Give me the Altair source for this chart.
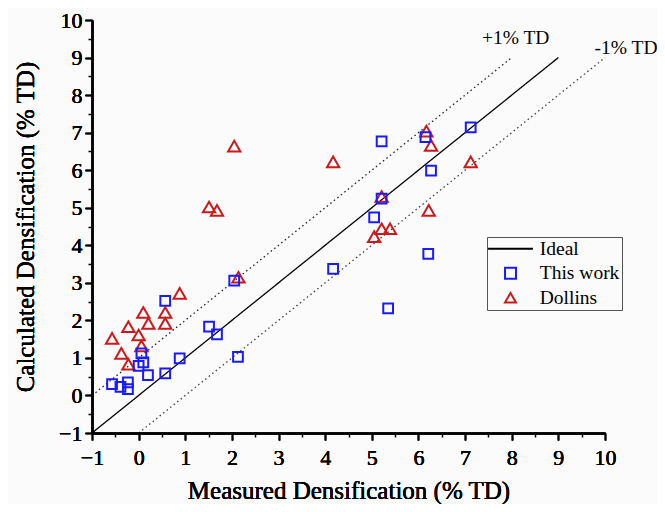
import altair as alt
import pandas as pd

# ---- data ----
this_work_x = [-0.57, -0.39, -0.23, -0.23, 0.0, 0.06, 0.10, 0.20, 0.57, 0.57, 0.88, 1.51, 1.68, 2.05, 2.13,
               4.17, 5.05, 5.21, 5.21, 6.15, 6.27, 7.12, 6.21, 5.35]
this_work_y = [0.30, 0.23, 0.35, 0.17, 0.79, 1.12, 0.88, 0.54, 0.59, 2.52, 0.99, 1.83, 1.63, 3.06, 1.03,
               3.37, 4.74, 5.24, 6.77, 6.88, 5.99, 7.14, 3.77, 2.32]
dollins_x = [2.05, 4.17, 1.51, 1.68, 6.17, 6.27, 7.12, 5.21, 6.22, 5.05, 5.21, 5.39, 2.14, 0.88,
             0.10, 0.57, 0.21, 0.57, -0.22, 0.0, -0.57, 0.06, -0.37, -0.22]
dollins_y = [6.64, 6.22, 5.02, 4.93, 7.04, 6.66, 6.22, 5.30, 4.93, 4.23, 4.44, 4.44, 3.15, 2.72,
             2.21, 2.21, 1.92, 1.92, 1.83, 1.61, 1.52, 1.32, 1.12, 0.83]

ideal_x = [-1, 9]
ideal_y = [-1, 9]
plus_x = [-1, 8]
plus_y = [0, 9]
minus_x = [0, 10]
minus_y = [-1, 9]

series_names = ["Ideal", "This work", "Dollins"]
major_ticks = list(range(-1, 11))
minor_ticks = [v + 0.5 for v in range(-1, 10)]
band_labels = ["+1% TD", "-1% TD"]
band_label_x = [8.085, 10.45]
band_label_y = [9.35, 9.085]

FONT = "Liberation Serif"

tw = pd.DataFrame({"x": this_work_x, "y": this_work_y, "series": "This work"})
do = pd.DataFrame({"x": dollins_x, "y": dollins_y, "series": "Dollins"})
lines = pd.concat([
    pd.DataFrame({"x": ideal_x, "y": ideal_y, "line": "ideal"}),
    pd.DataFrame({"x": plus_x, "y": plus_y, "line": "plus"}),
    pd.DataFrame({"x": minus_x, "y": minus_y, "line": "minus"}),
])
labels = pd.DataFrame({"x": band_label_x, "y": band_label_y, "t": band_labels})

xs = alt.Scale(domain=[-1, 10], nice=False, zero=False)
ys = alt.Scale(domain=[-1, 10], nice=False, zero=False)

major_x = alt.Axis(values=major_ticks, orient="bottom", grid=False, tickSize=7, tickWidth=1.5,
                   domainWidth=2, domainColor="black", tickColor="black", labelFont=FONT, labelFontSize=22,
                   labelColor="black", labelPadding=7, title="Measured Densification (% TD)",
                   titleFont=FONT, titleFontSize=25, titleFontWeight="normal", titleColor="black",
                   titlePadding=10, labelFlush=False)
major_y = alt.Axis(values=major_ticks, orient="left", grid=False, tickSize=7, tickWidth=1.5,
                   domainWidth=2, domainColor="black", tickColor="black", labelFont=FONT, labelFontSize=22,
                   labelColor="black", labelPadding=3, title="Calculated Densification (% TD)",
                   titleFont=FONT, titleFontSize=25, titleFontWeight="normal", titleColor="black",
                   titlePadding=20, labelFlush=False)
minor_x = alt.Axis(values=minor_ticks, orient="bottom", grid=False, tickSize=4, tickWidth=1.5,
                   labels=False, domain=False, tickColor="black", title=None)
minor_y = alt.Axis(values=minor_ticks, orient="left", grid=False, tickSize=4, tickWidth=1.5,
                   labels=False, domain=False, tickColor="black", title=None)

line_layer = alt.Chart(lines).mark_line(color="black", strokeWidth=1.3).encode(
    x=alt.X("x:Q", scale=xs, axis=major_x),
    y=alt.Y("y:Q", scale=ys, axis=major_y),
    detail="line:N",
    strokeDash=alt.StrokeDash("line:N", scale=alt.Scale(domain=["ideal", "plus", "minus"],
                                                          range=[[1, 0], [1.5, 3], [1.5, 3]]), legend=None),
    opacity=alt.Opacity("line:N", scale=alt.Scale(domain=["ideal", "plus", "minus"], range=[1, 0.75, 0.75]),
                        legend=None),
)

minor_layer = alt.Chart(lines).mark_line(opacity=0).encode(
    x=alt.X("x:Q", scale=xs, axis=minor_x),
    y=alt.Y("y:Q", scale=ys, axis=minor_y),
    detail="line:N",
)

legend = alt.Legend(title=None, orient="none", legendX=395, legendY=217, labelFont=FONT, labelFontSize=19.5,
                    labelColor="black", strokeColor="#555", padding=2, rowPadding=3.5, labelOffset=19.5,
                    symbolOffset=11.75, symbolStrokeWidth=2, symbolSize=120)

shape_scale = alt.Scale(domain=series_names, range=["M-4.1,0H4.1", "square", "triangle-up"])
color_scale = alt.Scale(domain=series_names, range=["black", "#1a1aff", "#cc1a1a"])


def point_layer(df, size):
    return alt.Chart(df).mark_point(filled=False, strokeWidth=2, opacity=1, size=size).encode(
        x=alt.X("x:Q", scale=xs, axis=major_x),
        y=alt.Y("y:Q", scale=ys, axis=major_y),
        shape=alt.Shape("series:N", scale=shape_scale, legend=legend),
        color=alt.Color("series:N", scale=color_scale, legend=legend),
    )


text_layer = alt.Chart(labels).mark_text(font=FONT, fontSize=19.5, color="black", clip=False,
                                         baseline="alphabetic").encode(
    x=alt.X("x:Q", scale=xs, axis=major_x),
    y=alt.Y("y:Q", scale=ys, axis=major_y),
    text="t:N",
)

chart = alt.layer(minor_layer, line_layer, point_layer(do, 150), point_layer(tw, 95), text_layer).resolve_axis(
    x="independent", y="independent"
).properties(
    width=513, height=413,
    autosize=alt.AutoSizeParams(type="none"),
    padding={"left": 84, "top": 12, "right": 52, "bottom": 71},
    background="#fbfbfb",
).configure_view(stroke=None)

chart.save("out.html", embed_options={"renderer": "svg", "actions": False})
